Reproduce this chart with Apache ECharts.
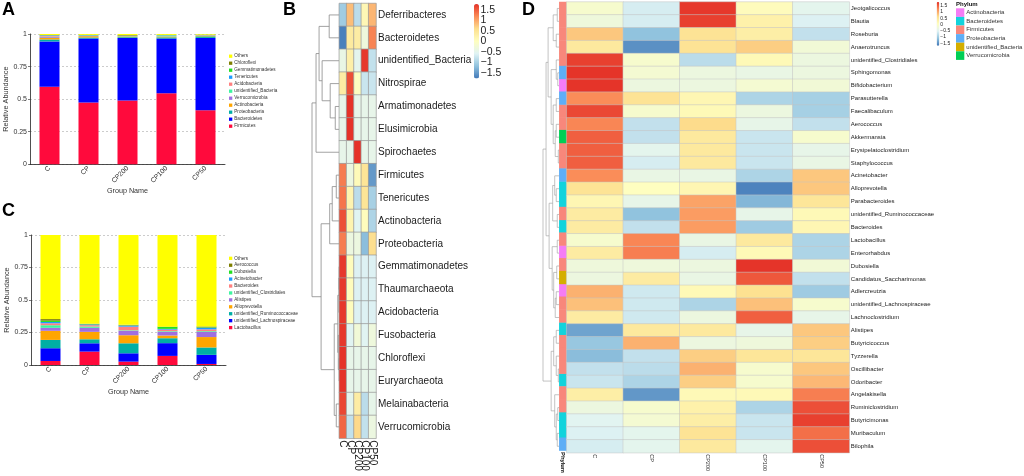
<!DOCTYPE html>
<html><head><meta charset="utf-8">
<script src="https://cdn.jsdelivr.net/npm/echarts@6/dist/echarts.min.js"></script>
<style>html,body{margin:0;padding:0;background:#fff}#c{width:1024px;height:476px}</style>
</head><body><div id="c"></div>
<script>
// ---------- DATA ----------
const groups = ['C', 'CP', 'CP200', 'CP100', 'CP50'];

// Panel A: phylum relative abundance (stack order bottom -> top)
const phylaA = ['Firmicutes','Bacteroidetes','Proteobacteria','Actinobacteria','Verrucomicrobia','unidentified_Bacteria','Acidobacteria','Tenericutes','Gemmatimonadetes','Chloroflexi','Others'];
const abundA = [
  [0.596, 0.475, 0.490, 0.545, 0.415],
  [0.347, 0.490, 0.480, 0.420, 0.555],
  [0.015, 0.008, 0.006, 0.009, 0.012],
  [0.012, 0.010, 0.005, 0.006, 0.006],
  [0.006, 0.002, 0.002, 0.002, 0.001],
  [0.004, 0.002, 0.002, 0.006, 0.001],
  [0.006, 0.001, 0.001, 0.001, 0.001],
  [0.004, 0.003, 0.001, 0.002, 0.002],
  [0.001, 0.001, 0.001, 0.001, 0.001],
  [0.001, 0.001, 0.004, 0.001, 0.001],
  [0.008, 0.007, 0.008, 0.007, 0.005]
];

// Panel C: genus relative abundance (stack order bottom -> top)
const generaC = ['Lactobacillus','unidentified_Lachnospiraceae','unidentified_Ruminococcaceae','Alloprevotella','Alistipes','unidentified_Clostridiales','Bacteroides','Acinetobacter','Dubosiella','Aerococcus','Others'];
const abundC = [
  [0.031, 0.103, 0.026, 0.070, 0.008],
  [0.098, 0.064, 0.064, 0.098, 0.070],
  [0.064, 0.031, 0.077, 0.038, 0.057],
  [0.070, 0.057, 0.062, 0.021, 0.080],
  [0.023, 0.031, 0.034, 0.028, 0.039],
  [0.020, 0.010, 0.004, 0.005, 0.006],
  [0.015, 0.010, 0.028, 0.012, 0.014],
  [0.010, 0.006, 0.008, 0.006, 0.012],
  [0.010, 0.002, 0.002, 0.015, 0.004],
  [0.012, 0.003, 0.004, 0.002, 0.006],
  [0.647, 0.683, 0.691, 0.705, 0.704]
];

// Panel B: phylum heatmap (row z-scores)
const bRows = ['Deferribacteres','Bacteroidetes','unidentified_Bacteria','Nitrospirae','Armatimonadetes','Elusimicrobia','Spirochaetes','Firmicutes','Tenericutes','Actinobacteria','Proteobacteria','Gemmatimonadetes','Thaumarchaeota','Acidobacteria','Fusobacteria','Chloroflexi','Euryarchaeota','Melainabacteria','Verrucomicrobia'];
const bValues = [
  [-1.05, 0.85, -0.85, 0.15, 0.90],
  [-1.70, 0.40, 0.35, -0.30, 1.25],
  [-0.40, 0.30, -0.50, 1.75, -0.80],
  [0.35, 1.60, 0.00, -0.75, -0.75],
  [-0.447, 1.789, -0.447, -0.447, -0.447],
  [-0.447, 1.789, -0.447, -0.447, -0.447],
  [-0.447, -0.447, 1.789, -0.447, -0.447],
  [1.30, -0.35, 0.10, 0.50, -1.50],
  [1.35, 0.20, -0.85, 0.50, -1.00],
  [1.60, 0.20, -0.55, 0.05, -0.95],
  [1.30, -0.35, -0.35, -1.20, 0.60],
  [1.75, 0.05, -0.60, -0.60, -0.60],
  [1.75, 0.05, -0.60, -0.60, -0.60],
  [1.75, 0.05, -0.60, -0.60, -0.60],
  [1.75, -0.55, -0.25, -0.55, -0.30],
  [1.789, -0.447, -0.447, -0.447, -0.447],
  [1.789, -0.447, -0.447, -0.447, -0.447],
  [1.65, -0.50, 0.35, -0.85, -0.45],
  [1.45, -0.80, 0.65, -0.80, -0.35]
];
// row dendrogram: [left, right, height], leaves = row index
const bTree = [
  [[[0, 1, 10], [2, [3, [4, 5, 4], 9], 17], 20], 6, 23],
  [[[[7, 8, 3], 9, 7], 10, 9.5], [[[[11, 12, 0.2], 13, 0.4], [14, [15, 16, 0.2], 1], 1.5], [17, 18, 3], 5], 18],
  27
];
const bColorTicksHalf = [-1.5, -0.5, 0.5, 1.5];
const bColorTicksWhole = [-1, 0, 1];

// Panel D: genus heatmap (row z-scores)
const dRows = ['Jeotgalicoccus','Blautia','Roseburia','Anaerotruncus','unidentified_Clostridiales','Sphingomonas','Bifidobacterium','Parasutterella','Faecalibaculum','Aerococcus','Akkermansia','Erysipelatoclostridium','Staphylococcus','Acinetobacter','Alloprevotella','Parabacteroides','unidentified_Ruminococcaceae','Bacteroides','Lactobacillus','Enterorhabdus','Dubosiella','Candidatus_Saccharimonas','Adlercreutzia','unidentified_Lachnospiraceae','Lachnoclostridium','Alistipes','Butyricicoccus','Tyzzerella','Oscillibacter','Odoribacter','Angelakisella','Ruminiclostridium','Butyricimonas','Muribaculum','Bilophila'];
const dPhylum = ['Firmicutes','Firmicutes','Firmicutes','Firmicutes','Firmicutes','Proteobacteria','Actinobacteria','Proteobacteria','Firmicutes','Firmicutes','Verrucomicrobia','Firmicutes','Firmicutes','Proteobacteria','Bacteroidetes','Bacteroidetes','Firmicutes','Bacteroidetes','Firmicutes','Actinobacteria','Firmicutes','unidentified_Bacteria','Actinobacteria','Firmicutes','Firmicutes','Bacteroidetes','Firmicutes','Firmicutes','Firmicutes','Bacteroidetes','Firmicutes','Firmicutes','Bacteroidetes','Bacteroidetes','Proteobacteria'];
const dValues = [
  [-0.10, -0.60, 1.75, 0.10, -0.45],
  [-0.25, -0.60, 1.70, 0.30, -0.55],
  [0.80, -1.10, 0.55, 0.35, -0.75],
  [0.45, -1.50, 0.55, 0.75, -0.20],
  [1.70, -0.10, -0.80, 0.15, -0.30],
  [1.78, -0.15, -0.30, -0.35, -0.30],
  [1.78, -0.30, -0.30, -0.15, -0.20],
  [1.20, 0.55, 0.20, -0.90, -0.95],
  [1.65, -0.10, 0.15, -0.30, -0.95],
  [1.25, -0.75, 0.65, -0.40, -0.75],
  [1.50, -0.75, 0.45, -0.70, -0.10],
  [1.50, -0.45, 0.45, -0.70, -0.40],
  [1.50, -0.60, 0.45, -0.70, -0.35],
  [1.20, -0.35, -0.35, -0.90, 0.80],
  [0.55, 0.05, 0.20, -1.60, 0.80],
  [0.20, -0.40, 1.05, -1.20, 0.50],
  [0.40, -1.10, 1.10, -0.40, 0.15],
  [0.40, -0.75, 1.10, -1.00, 0.20],
  [-0.10, 1.25, -0.35, 0.45, -0.90],
  [0.40, 1.30, -0.60, 0.15, -0.90],
  [-0.25, -0.25, -0.30, 1.78, -0.20],
  [-0.30, 0.40, -0.35, 1.55, -0.75],
  [0.95, -0.65, 0.15, 0.60, -1.00],
  [0.85, -0.65, -0.90, 0.85, -0.10],
  [0.40, -0.65, -0.30, 1.50, -0.40],
  [-1.35, 0.45, 0.45, -0.40, 0.80],
  [-1.05, 0.95, -0.30, -0.25, 0.75],
  [-1.15, -0.75, 0.75, 0.50, 0.50],
  [-0.75, -0.80, 0.95, -0.10, 0.80],
  [-0.70, -0.90, 0.75, -0.10, 0.90],
  [0.35, -1.45, 0.15, 0.15, 1.30],
  [-0.30, -0.10, 0.30, -0.90, 1.60],
  [-0.50, -0.15, 0.35, -0.70, 1.70],
  [-0.55, -0.45, 0.55, -0.70, 1.40],
  [-0.60, -0.45, 0.45, -0.45, 1.60]
];
const dTree = [
  [
    [[[0, 1, 2], [2, 3, 3], 6], [[4, [5, 6, 1.5], 3], [[7, 8, 3], [[9, 10, 3], [11, 12, 1], 4], 6], 8], 11],
    [[[13, [14, 15, 3], 4.5], [16, 17, 2], 6.5], [[18, 19, 2], [[20, 21, 2.5], [[22, 23, 3], 24, 4], 5.5], 7], 10],
    13
  ],
  [[[25, 26, 3], [27, [28, 29, 1], 3], 5.5], [30, [[31, 32, 1.5], [33, 34, 2], 3], 4.5], 8],
  16
];
const phylumLegend = ['Actinobacteria','Bacteroidetes','Firmicutes','Proteobacteria','unidentified_Bacteria','Verrucomicrobia'];
const dColorTicks = [-1.5, -1, -0.5, 0, 0.5, 1, 1.5];

// ---------- STYLES ----------
const stackColors = ['#FF0A3C','#0000FF','#00AFA5','#FFA500','#9F6FE0','#3DF5A0','#FF8080','#1E9BFF','#22E022','#7F7F00','#FFFF00'];
const phylumColors = {Actinobacteria:'#F57CF5', Bacteroidetes:'#12D3DC', Firmicutes:'#F8877B', Proteobacteria:'#5EAEF6', unidentified_Bacteria:'#D4AE00', Verrucomicrobia:'#00CF55'};
const heatPalette = ['#4178B8','#90C2DE','#E0F3F4','#FEFEC0','#FDDF8E','#FA8C58','#E53228'];
const FONT = 'Liberation Sans, Arial, Helvetica, sans-serif';
const minusFmt = v => (v < 0 ? '\u2212' + Math.abs(v) : String(v));

function dendroSegments(tree) {
  const segs = [];
  function walk(n) {
    if (typeof n === 'number') return {x: 0, y: n};
    const l = walk(n[0]), r = walk(n[1]), h = n[2];
    segs.push({coords: [[l.x, l.y], [h, l.y], [h, r.y], [r.x, r.y]]});
    return {x: h, y: (l.y + r.y) / 2};
  }
  walk(tree);
  return segs;
}

const chart = echarts.init(document.getElementById('c'), null, {renderer: 'canvas'});

const series = [];
phylaA.forEach((n, i) => series.push({
  type: 'bar', name: 'A|' + n, stack: 'A', xAxisIndex: 0, yAxisIndex: 0,
  barWidth: 20, data: abundA[i], itemStyle: {color: stackColors[i]}, emphasis: {disabled: true}
}));
generaC.forEach((n, i) => series.push({
  type: 'bar', name: 'C|' + n, stack: 'C', xAxisIndex: 1, yAxisIndex: 1,
  barWidth: 20, data: abundC[i], itemStyle: {color: stackColors[i]}, emphasis: {disabled: true}
}));
series.push({
  type: 'lines', coordinateSystem: 'cartesian2d', polyline: true, xAxisIndex: 2, yAxisIndex: 2,
  data: dendroSegments(bTree), lineStyle: {color: '#8a8a8a', width: 0.8, opacity: 1}, silent: true
});
const bHeatIdx = series.length;
const bData = [];
bValues.forEach((row, r) => row.forEach((v, c) => bData.push([c, r, v])));
series.push({
  type: 'heatmap', xAxisIndex: 3, yAxisIndex: 3, data: bData,
  itemStyle: {borderColor: '#9a9a9a', borderWidth: 0.7}, emphasis: {disabled: true}
});
series.push({
  type: 'lines', coordinateSystem: 'cartesian2d', polyline: true, xAxisIndex: 5, yAxisIndex: 5,
  data: dendroSegments(dTree), lineStyle: {color: '#9a9a9a', width: 0.6, opacity: 1}, silent: true
});
phylumLegend.forEach(p => {
  const d = [];
  dPhylum.forEach((q, i) => { if (q === p) d.push([0, i, 1]); });
  series.push({
    type: 'heatmap', name: 'D|' + p, xAxisIndex: 6, yAxisIndex: 6, data: d,
    itemStyle: {color: phylumColors[p]}, emphasis: {disabled: true}
  });
});
const dHeatIdx = series.length;
const dData = [];
dValues.forEach((row, r) => row.forEach((v, c) => dData.push([c, r, v])));
series.push({
  type: 'heatmap', xAxisIndex: 7, yAxisIndex: 7, data: dData,
  itemStyle: {borderColor: '#c4c4c4', borderWidth: 0.5}, emphasis: {disabled: true}
});

const barX = (gi) => ({
  type: 'category', gridIndex: gi, data: groups,
  axisLine: {lineStyle: {color: '#222', width: 0.8}},
  axisTick: {alignWithLabel: true, length: 2, lineStyle: {color: '#222', width: 0.6}},
  axisLabel: {rotate: 45, fontSize: 6.8, color: '#333', margin: 3, interval: 0},
  name: 'Group Name', nameLocation: 'middle', nameGap: 19,
  nameTextStyle: {fontSize: 7.2, color: '#333'}
});
const barY = (gi) => ({
  type: 'value', gridIndex: gi, min: 0, max: 1, interval: 0.25,
  axisLine: {show: true, lineStyle: {color: '#222', width: 0.8}},
  axisTick: {show: true, length: 2, lineStyle: {color: '#222', width: 0.6}},
  axisLabel: {fontSize: 7, color: '#333', margin: 3},
  splitLine: {show: true, lineStyle: {type: [2, 2], color: '#aaaaaa', width: 0.6}},
  name: 'Relative Abundance', nameLocation: 'middle', nameGap: 20,
  nameTextStyle: {fontSize: 7.3, color: '#333'}
});
const hidden = {show: false};
const colorbarAxis = (gi, min, max, ticks, fs) => ({
  type: 'value', gridIndex: gi, min: min, max: max, position: 'right',
  axisLine: hidden, axisTick: hidden, splitLine: hidden,
  axisLabel: {customValues: ticks, formatter: minusFmt, fontSize: fs, color: '#222', margin: fs > 6 ? 1.5 : 1,
              showMinLabel: true, showMaxLabel: true, hideOverlap: false}
});

const legendCommon = {
  orient: 'vertical', icon: 'rect', padding: 0, selectedMode: false,
  formatter: n => n.split('|')[1]
};

chart.setOption({
  animation: false,
  textStyle: {fontFamily: FONT},
  title: [
    {text: 'A', left: 2, top: 1.5, padding: 0, textStyle: {fontSize: 18, fontWeight: 'bold', color: '#000'}},
    {text: 'B', left: 283, top: 1.5, padding: 0, textStyle: {fontSize: 18, fontWeight: 'bold', color: '#000'}},
    {text: 'C', left: 2, top: 202, padding: 0, textStyle: {fontSize: 18, fontWeight: 'bold', color: '#000'}},
    {text: 'D', left: 522, top: 1, padding: 0, textStyle: {fontSize: 18, fontWeight: 'bold', color: '#000'}},
    {text: 'Phylum', left: 956, top: 1, padding: 0, textStyle: {fontSize: 6, fontWeight: 'bold', color: '#111'}}
  ],
  legend: [
    Object.assign({}, legendCommon, {
      left: 229, top: 53.7, itemWidth: 3.3, itemHeight: 3.3, itemGap: 2,
      data: phylaA.map(n => 'A|' + n).reverse(),
      textStyle: {fontSize: 4.6, lineHeight: 3.3, color: '#333', padding: [0, 0, 0, -3]}
    }),
    Object.assign({}, legendCommon, {
      left: 229, top: 255.8, itemWidth: 3.3, itemHeight: 3.3, itemGap: 1.93,
      data: generaC.map(n => 'C|' + n).reverse(),
      textStyle: {fontSize: 4.6, lineHeight: 3.3, color: '#333', padding: [0, 0, 0, -3]}
    }),
    Object.assign({}, legendCommon, {
      left: 956, top: 8.3, itemWidth: 8.3, itemHeight: 8.6, itemGap: 0,
      data: phylumLegend.map(n => 'D|' + n),
      textStyle: {fontSize: 6, lineHeight: 8.6, color: '#333', padding: [0, 0, 0, -3]}
    })
  ],
  visualMap: [
    {type: 'continuous', min: -1.76, max: 1.789, seriesIndex: bHeatIdx, inRange: {color: heatPalette},
     left: 474, top: 4, itemWidth: 5, itemHeight: 74.5, padding: 0, calculable: false, hoverLink: false},
    {type: 'continuous', min: -1.69, max: 1.79, seriesIndex: dHeatIdx, inRange: {color: heatPalette},
     left: 936.7, top: 2, itemWidth: 2.6, itemHeight: 43.7, padding: 0, calculable: false, hoverLink: false}
  ],
  grid: [
    {left: 30, top: 34, width: 195, height: 130.3},
    {left: 31, top: 235, width: 195, height: 130},
    {left: 312, top: 3.5, width: 27.3, height: 434.8},
    {left: 339.3, top: 3.5, width: 36.7, height: 434.8},
    {left: 474, top: 4, width: 5, height: 74.5},
    {left: 543, top: 2, width: 16.3, height: 450.7},
    {left: 559.3, top: 2, width: 7.4, height: 450.7},
    {left: 566.7, top: 2, width: 282.6, height: 450.7},
    {left: 936.7, top: 2, width: 2.6, height: 43.7},
    {left: 474, top: 4, width: 5, height: 74.5}
  ],
  xAxis: [
    barX(0),
    barX(1),
    Object.assign({type: 'value', gridIndex: 2, inverse: true, min: 0, max: 27}, hidden),
    {type: 'category', gridIndex: 3, data: groups, position: 'bottom',
     axisLine: hidden, axisTick: hidden,
     axisLabel: {rotate: -90, fontSize: 10, color: '#1a1a1a', margin: 2, interval: 0, hideOverlap: false}},
    Object.assign({type: 'category', gridIndex: 4, data: ['']}, hidden),
    Object.assign({type: 'value', gridIndex: 5, inverse: true, min: 0, max: 16}, hidden),
    {type: 'category', gridIndex: 6, data: ['Phylum'], position: 'bottom',
     axisLine: hidden, axisTick: hidden,
     axisLabel: {rotate: -90, fontSize: 5.8, fontWeight: 'bold', color: '#111', margin: 1.5, interval: 0}},
    {type: 'category', gridIndex: 7, data: groups, position: 'bottom',
     axisLine: hidden, axisTick: hidden,
     axisLabel: {rotate: -90, fontSize: 5.5, color: '#333', margin: 1.5, interval: 0}},
    Object.assign({type: 'category', gridIndex: 8, data: ['']}, hidden),
    Object.assign({type: 'category', gridIndex: 9, data: ['']}, hidden)
  ],
  yAxis: [
    barY(0),
    barY(1),
    Object.assign({type: 'value', gridIndex: 2, inverse: true, min: -0.5, max: bRows.length - 0.5}, hidden),
    {type: 'category', gridIndex: 3, data: bRows, inverse: true, position: 'right',
     axisLine: hidden, axisTick: hidden,
     axisLabel: {fontSize: 10, color: '#1a1a1a', margin: 2, interval: 0}},
    colorbarAxis(4, -1.76, 1.789, bColorTicksHalf, 10.5),
    Object.assign({type: 'value', gridIndex: 5, inverse: true, min: -0.5, max: dRows.length - 0.5}, hidden),
    Object.assign({type: 'category', gridIndex: 6, data: dRows, inverse: true}, hidden),
    {type: 'category', gridIndex: 7, data: dRows, inverse: true, position: 'right',
     axisLine: hidden, axisTick: hidden,
     axisLabel: {fontSize: 6, color: '#222', margin: 1.5, interval: 0}},
    colorbarAxis(8, -1.69, 1.79, dColorTicks, 5),
    colorbarAxis(9, -1.76, 1.789, bColorTicksWhole, 10.5)
  ],
  series: series
});
</script></body></html>
